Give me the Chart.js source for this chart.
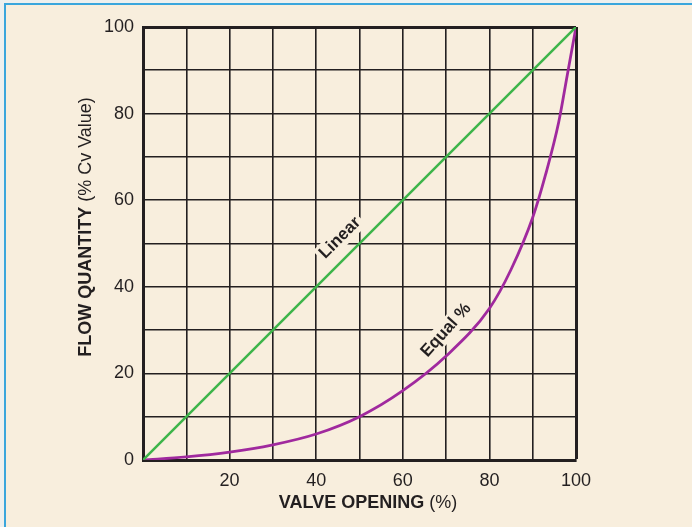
<!DOCTYPE html>
<html>
<head>
<meta charset="utf-8">
<script src="https://cdn.jsdelivr.net/npm/chart.js@4.4.1/dist/chart.umd.min.js"></script>
<style>
  html, body { margin: 0; padding: 0; background: #eef0ee; overflow: hidden; }
  #frame {
    position: absolute; left: 4px; top: 3px; width: 688px; height: 524px;
    background: #f8eedd; border-left: 2px solid #3aa6dc; border-top: 2px solid #3aa6dc;
    box-sizing: border-box;
  }
  #valveChart { position: absolute; left: 0; top: 0; }
</style>
</head>
<body>
<div id="frame"></div>
<canvas id="valveChart" width="692" height="527"></canvas>
<script>
/* ================= DATA ================= */
const linearOpening = [0, 100];
const linearFlow = [0, 100];

const equalOpening = [0, 10, 20, 30, 40, 50, 60, 70, 80, 85, 90, 93, 96, 98, 100];
const equalFlow = [0, 0.7, 1.8, 3.5, 6, 10, 16, 24, 35, 44, 56, 66, 78, 89, 100];

const gridSteps = [0, 10, 20, 30, 40, 50, 60, 70, 80, 90, 100];
const xTicks = [20, 40, 60, 80, 100];
const yTicks = [0, 20, 40, 60, 80, 100];

const xTitleBold = "VALVE OPENING";
const xTitleNorm = " (%)";
const yTitleBold = "FLOW QUANTITY";
const yTitleNorm = " (% Cv Value)";

/* ================= STYLE ================= */
const INK = "#231f20";
const GREEN = "#3db44a";
const PURPLE = "#a0299e";
const CREAM = "#f8eedd";
const FONT = "'Liberation Sans', Arial, Helvetica, sans-serif";

const toPoints = (xs, ys) => xs.map((x, i) => ({ x, y: ys[i] }));

/* ================= PLUGIN: titles + curve labels ================= */
function mixedText(ctx, bold, norm, cx, cy, size) {
  ctx.font = `bold ${size}px ${FONT}`;
  const wb = ctx.measureText(bold).width;
  ctx.font = `${size}px ${FONT}`;
  const wn = ctx.measureText(norm).width;
  const sx = cx - (wb + wn) / 2;
  ctx.textAlign = "left";
  ctx.font = `bold ${size}px ${FONT}`;
  ctx.fillText(bold, sx, cy);
  ctx.font = `${size}px ${FONT}`;
  ctx.fillText(norm, sx + wb, cy);
}

const annotations = {
  id: "annotations",
  afterDraw(chart) {
    const { ctx, scales } = chart;
    const xs = scales.x, ys = scales.y;
    ctx.save();
    ctx.fillStyle = INK;
    ctx.textBaseline = "middle";

    // x title
    mixedText(ctx, xTitleBold, xTitleNorm, 368, 503, 18);

    // y title, rotated
    ctx.save();
    ctx.translate(86, 227);
    ctx.rotate(-Math.PI / 2);
    mixedText(ctx, yTitleBold, yTitleNorm, 0, 0, 18);
    ctx.restore();

    // curve labels
    const label = (text, vx, vy, angle) => {
      ctx.save();
      ctx.translate(xs.getPixelForValue(vx), ys.getPixelForValue(vy));
      ctx.rotate(angle);
      ctx.font = `bold 17px ${FONT}`;
      ctx.textAlign = "center";
      const w = ctx.measureText(text).width;
      ctx.fillStyle = CREAM;
      ctx.fillRect(-w / 2 - 3, -10, w + 6, 20);
      ctx.fillStyle = INK;
      ctx.fillText(text, 0, 0);
      ctx.restore();
    };
    label("Linear", 45.5, 51.3, -Math.PI / 4);
    label("Equal %", 70, 30, -48 * Math.PI / 180);
    ctx.restore();
  },
};

const gridOpts = {
  color: INK,
  lineWidth: (c) => (c.tick && c.tick.value === 100 ? 3 : 1.6),
  drawTicks: false,
};

/* ================= CHART ================= */
new Chart(document.getElementById("valveChart"), {
  type: "scatter",
  data: {
    datasets: [
      {
        label: "Linear",
        data: toPoints(linearOpening, linearFlow),
        showLine: true,
        borderColor: GREEN,
        borderWidth: 2.5,
        pointRadius: 0,
      },
      {
        label: "Equal %",
        data: toPoints(equalOpening, equalFlow),
        showLine: true,
        borderColor: PURPLE,
        borderWidth: 2.8,
        pointRadius: 0,
        cubicInterpolationMode: "monotone",
      },
    ],
  },
  options: {
    responsive: false,
    animation: false,
    devicePixelRatio: 1,
    layout: { padding: { top: 27, right: 116, left: 0, bottom: 0 } },
    plugins: { legend: { display: false }, tooltip: { enabled: false } },
    scales: {
      x: {
        type: "linear",
        min: 0,
        max: 100,
        afterFit: (s) => { s.height = 67; },
        afterBuildTicks: (s) => { s.ticks = gridSteps.map((v) => ({ value: v })); },
        grid: gridOpts,
        border: { display: true, color: INK, width: 3 },
        ticks: {
          padding: 10,
          maxRotation: 0,
          autoSkip: false,
          color: INK,
          font: { family: FONT, size: 18 },
          callback: (v) => (xTicks.includes(v) ? String(v) : ""),
        },
      },
      y: {
        type: "linear",
        min: 0,
        max: 100,
        afterFit: (s) => { s.width = 143; },
        afterBuildTicks: (s) => { s.ticks = gridSteps.map((v) => ({ value: v })); },
        grid: gridOpts,
        border: { display: true, color: INK, width: 3 },
        ticks: {
          padding: 9,
          autoSkip: false,
          color: INK,
          font: { family: FONT, size: 18 },
          callback: (v) => (yTicks.includes(v) ? String(v) : ""),
        },
      },
    },
  },
  plugins: [annotations],
});
</script>
</body>
</html>
